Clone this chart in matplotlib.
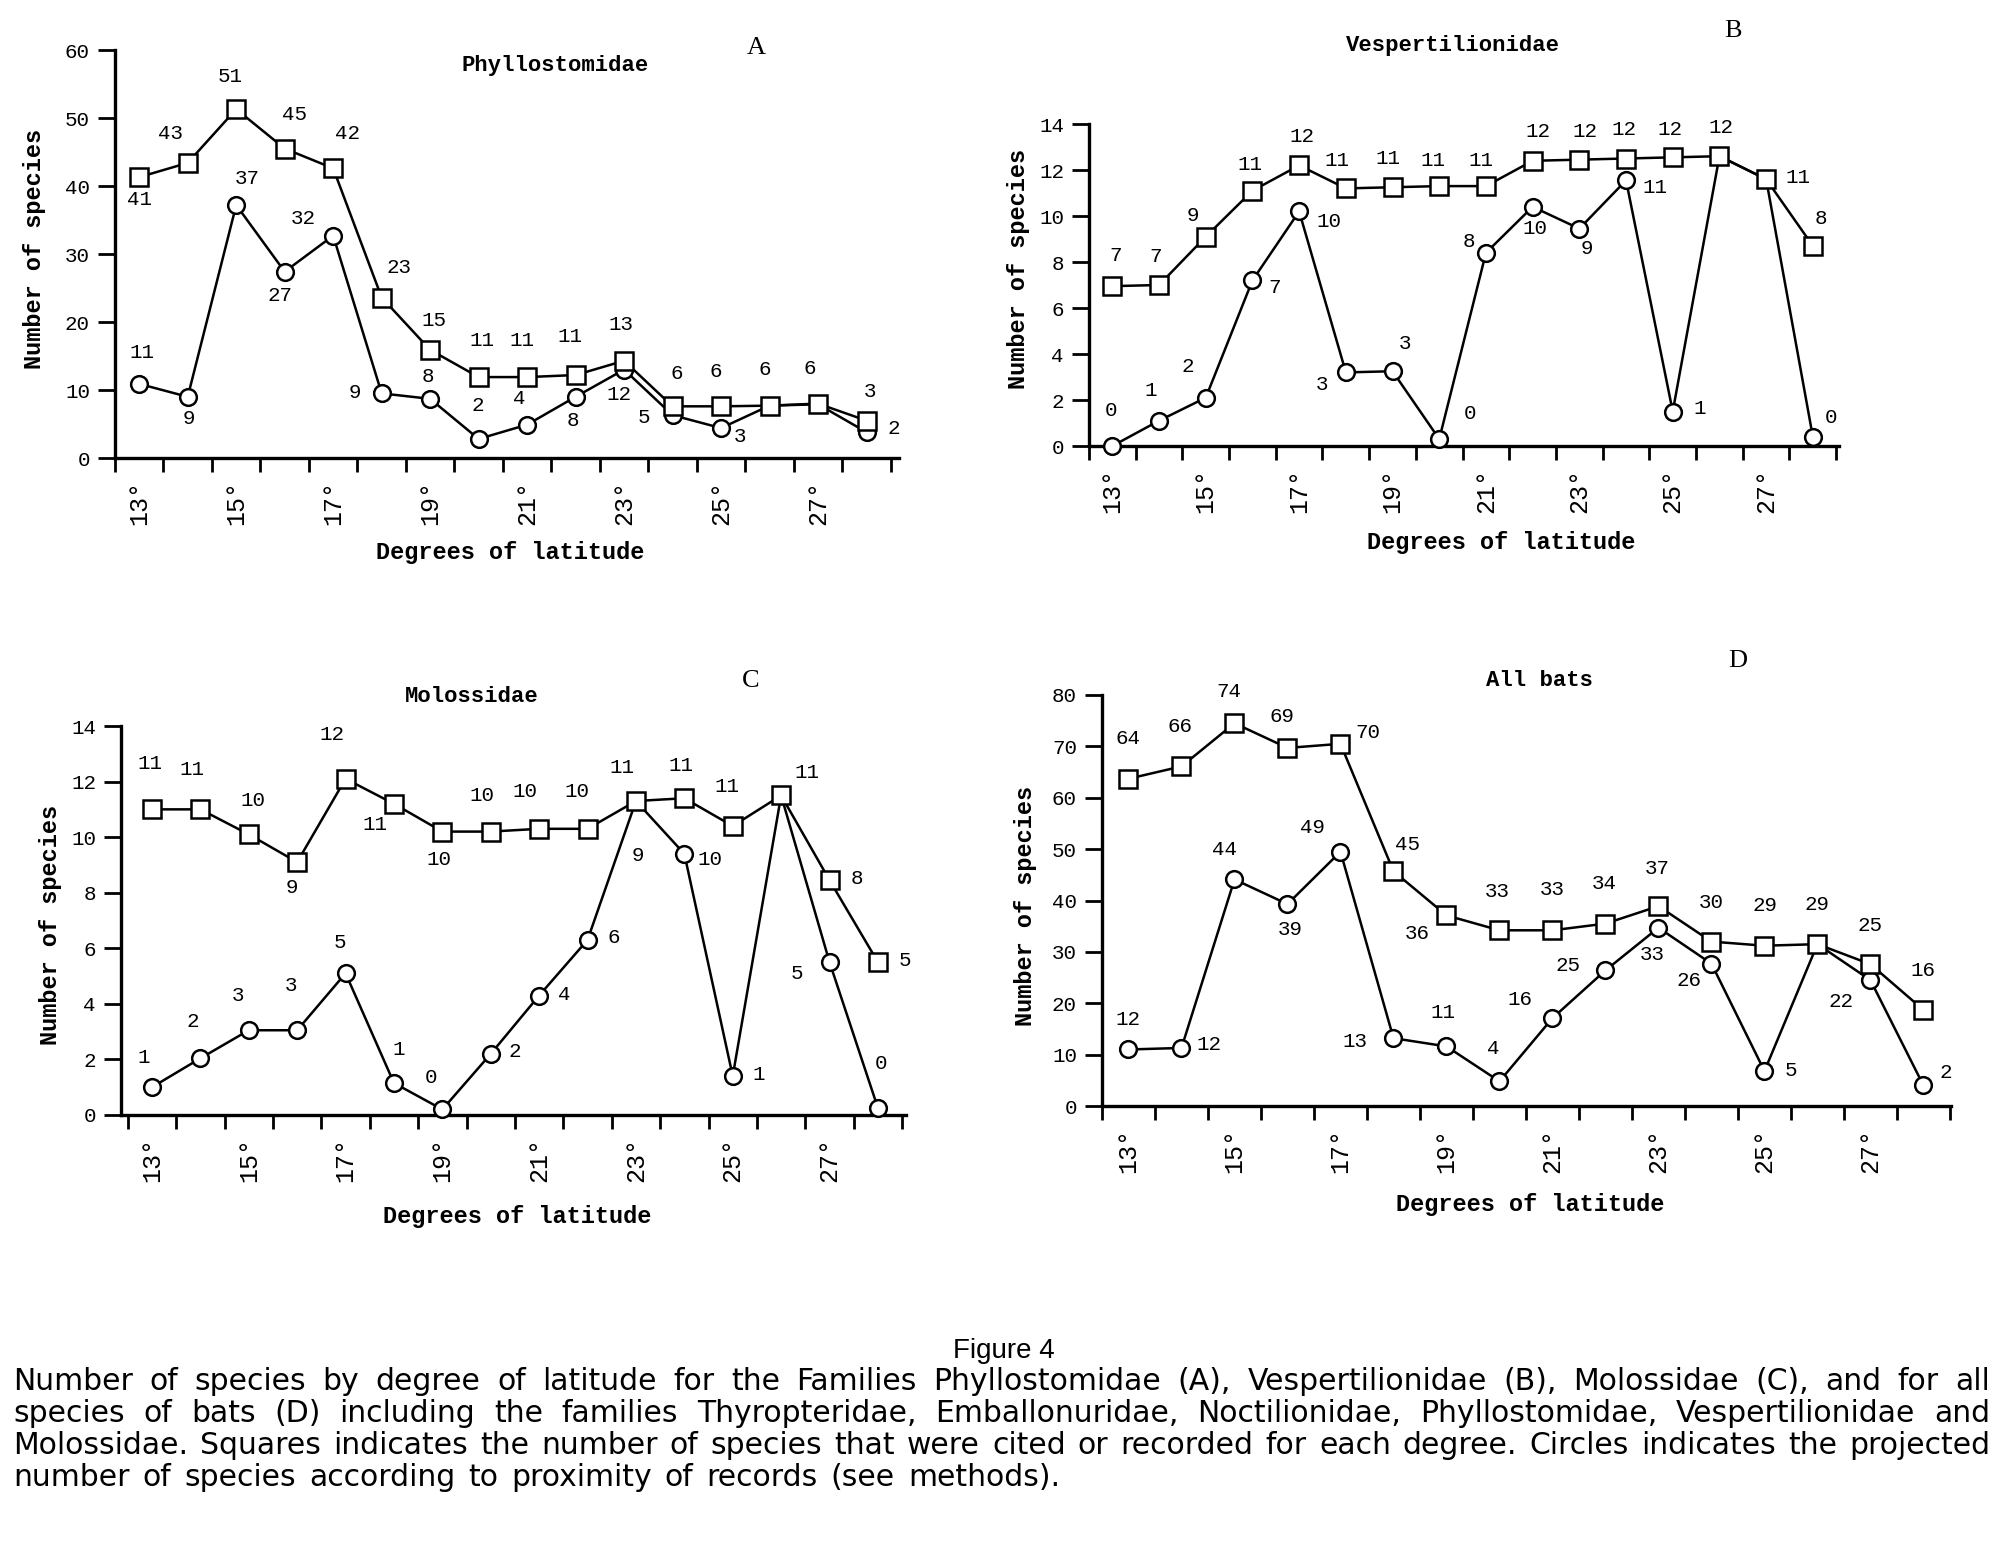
import numpy as np
import matplotlib
matplotlib.use('Agg')
import matplotlib.pyplot as plt

W, H = 2008, 1560
MONO = 'Liberation Mono'
SERIF = 'Liberation Serif'
SANS = 'Liberation Sans'

lat = np.arange(13, 29)
odd_lat = np.arange(13, 29, 2)
lat_labels = [f'{d}°' for d in odd_lat]

# A  Phyllostomidae (values as plotted, labels as printed)
sq_a = [41.3, 43.4, 51.3, 45.5, 42.6, 23.6, 15.9, 11.9, 11.9, 12.2, 14.3, 7.6, 7.6, 7.7, 8.0, 5.5]
sq_a_lab = ['41', '43', '51', '45', '42', '23', '15', '11', '11', '11', '13', '6', '6', '6', '6', '3']
ci_a = [10.9, 9.0, 37.2, 27.4, 32.7, 9.5, 8.7, 2.8, 4.9, 9.0, 13.0, 6.3, 4.4, 7.7, 7.9, 3.8]
ci_a_lab = ['11', '9', '37', '27', '32', '9', '8', '2', '4', '8', '12', '5', '3', '', '', '2']

# B  Vespertilionidae
sq_b = [6.95, 7.0, 9.1, 11.1, 12.2, 11.2, 11.25, 11.3, 11.3, 12.4, 12.45, 12.5, 12.55, 12.6, 11.6, 8.7]
sq_b_lab = ['7', '7', '9', '11', '12', '11', '11', '11', '11', '12', '12', '12', '12', '12', '11', '8']
ci_b = [0, 1.1, 2.1, 7.2, 10.2, 3.2, 3.25, 0.3, 8.4, 10.4, 9.45, 11.55, 1.5, 12.6, 11.6, 0.4]
ci_b_lab = ['0', '1', '2', '7', '10', '3', '3', '0', '8', '10', '9', '11', '1', '', '', '0']

# C  Molossidae
sq_c = [11.0, 11.0, 10.1, 9.1, 12.1, 11.2, 10.2, 10.2, 10.3, 10.3, 11.3, 11.4, 10.4, 11.5, 8.45, 5.5]
sq_c_lab = ['11', '11', '10', '9', '12', '11', '10', '10', '10', '10', '11', '11', '11', '11', '8', '5']
ci_c = [1.0, 2.04, 3.05, 3.05, 5.1, 1.15, 0.2, 2.2, 4.3, 6.3, 11.3, 9.4, 1.4, 11.5, 5.5, 0.25]
ci_c_lab = ['1', '2', '3', '3', '5', '1', '0', '2', '4', '6', '9', '10', '1', '', '5', '0']

# D  All bats
sq_d = [63.7, 66.1, 74.5, 69.7, 70.5, 45.7, 37.1, 34.2, 34.2, 35.5, 38.9, 32.0, 31.2, 31.5, 27.6, 18.7]
sq_d_lab = ['64', '66', '74', '69', '70', '45', '36', '33', '33', '34', '37', '30', '29', '29', '25', '16']
ci_d = [11.0, 11.3, 44.1, 39.3, 49.5, 13.2, 11.6, 4.8, 17.1, 26.4, 34.7, 27.7, 6.8, 31.5, 24.5, 4.0]
ci_d_lab = ['12', '12', '44', '39', '49', '13', '11', '4', '16', '25', '33', '26', '5', '', '22', '2']

# label offsets in pixels (dx right, dy down)
sq_a_off = [(0, 22), (-17, -29), (-6, -33), (10, -34), (14, -35), (17, -30), (4, -29), (3, -37),
            (-5, -37), (-6, -39), (-3, -36), (4, -33), (-5, -35), (-5, -36), (-8, -35), (3, -29)]
ci_a_off = [(3, -31), (1, 22), (11, -27), (-5, 24), (-30, -17), (-27, -1), (-2, -22), (-1, -33),
            (-8, -26), (-3, 24), (-5, 25), (-29, 2), (19, 8), (0, 0), (0, 0), (27, -4)]
sq_b_off = [(3, -31), (-3, -29), (-13, -21), (-2, -26), (3, -29), (-9, -28), (-5, -29), (-6, -26),
            (-5, -26), (5, -29), (6, -28), (-2, -29), (-3, -28), (2, -29), (32, -2), (8, -27)]
ci_b_off = [(-1, -36), (-8, -30), (-18, -31), (22, 7), (30, 10), (-24, 12), (12, -28), (31, -26),
            (-17, -11), (2, 22), (8, 20), (29, 7), (27, -3), (0, 0), (0, 0), (18, -19)]
sq_c_off = [(-2, -46), (-8, -40), (4, -34), (-5, 25), (-14, -44), (-19, 21), (-3, 28), (-9, -36),
            (-14, -37), (-11, -37), (-14, -34), (-3, -33), (-6, -40), (26, -23), (27, -2), (27, -2)]
ci_c_off = [(-8, -30), (-8, -37), (-11, -35), (-6, -45), (-6, -31), (5, -34), (-11, -32), (24, -2),
            (25, -1), (26, -2), (2, 54), (26, 6), (26, -2), (0, 0), (-33, 11), (3, -45)]
sq_d_off = [(0, -40), (-1, -40), (-6, -32), (-5, -31), (27, -11), (14, -27), (-29, 18), (-2, -39),
            (0, -41), (-1, -40), (-1, -38), (0, -39), (1, -40), (0, -40), (0, -39), (0, -39)]
ci_d_off = [(-1, -30), (27, -3), (-10, -30), (3, 25), (-28, -24), (-39, 3), (-4, -34), (-6, -33),
            (-32, -19), (-37, -5), (-6, 27), (-22, 17), (26, -1), (0, 0), (-29, 21), (22, -13)]

caption = [
    'Number of species by degree of latitude for the Families Phyllostomidae (A), Vespertilionidae (B), Molossidae (C), and for all',
    'species of bats (D) including the families Thyropteridae, Emballonuridae, Noctilionidae, Phyllostomidae, Vespertilionidae and',
    'Molossidae. Squares indicates the number of species that were cited or recorded for each degree. Circles indicates the projected',
    'number of species according to proximity of records (see methods).',
]


def fx(x):
    return x / W


def fy(y):
    return 1 - y / H


fig = plt.figure(figsize=(W / 100, H / 100), dpi=100)
fig.patch.set_facecolor('white')


def panel(box, xlim, ymax, ystep, sq, sq_lab, sq_off, ci, ci_lab, ci_off,
          title, title_xy, letter, letter_xy, xlab_xy, ylab_xy):
    l, t, r, b = box
    ax = fig.add_axes([fx(l), fy(b), (r - l) / W, (b - t) / H])
    ax.plot(lat, ci, '-o', color='black', lw=1.8, ms=12, mfc='white', mec='black',
            mew=1.8, clip_on=False, zorder=3)
    ax.plot(lat, sq, '-s', color='black', lw=1.8, ms=13, mfc='white', mec='black',
            mew=1.8, clip_on=False, zorder=4)
    for x, y, s, (dx, dy) in zip(lat, sq, sq_lab, sq_off):
        if s:
            ax.annotate(s, (x, y), xytext=(dx, -dy), textcoords='offset pixels',
                        ha='center', va='center', fontsize=15, family=MONO, zorder=5)
    for x, y, s, (dx, dy) in zip(lat, ci, ci_lab, ci_off):
        if s:
            ax.annotate(s, (x, y), xytext=(dx, -dy), textcoords='offset pixels',
                        ha='center', va='center', fontsize=15, family=MONO, zorder=5)
    ax.set_xlim(*xlim)
    ax.set_ylim(0, ymax)
    ax.set_yticks(np.arange(0, ymax + 1, ystep))
    ax.set_xticks(odd_lat)
    ax.set_xticklabels(lat_labels, rotation=90, family=MONO, fontsize=18)
    ax.set_xticks(np.arange(12.5, 28.6, 1.0), minor=True)
    ax.tick_params(axis='x', which='major', length=0, pad=16)
    ax.tick_params(axis='x', which='minor', length=10, width=2, direction='out')
    ax.tick_params(axis='y', length=12, width=2, direction='out', pad=6)
    for lbl in ax.get_yticklabels():
        lbl.set_family(MONO)
        lbl.set_fontsize(15)
    for side in ('top', 'right'):
        ax.spines[side].set_visible(False)
    for side in ('left', 'bottom'):
        ax.spines[side].set_linewidth(2.4)
    fig.text(fx(title_xy[0]), fy(title_xy[1]), title, ha='center', va='center',
             family=MONO, fontsize=16, weight='bold')
    fig.text(fx(letter_xy[0]), fy(letter_xy[1]), letter, ha='center', va='center',
             family=SERIF, fontsize=19)
    fig.text(fx(xlab_xy[0]), fy(xlab_xy[1]), 'Degrees of latitude', ha='center', va='center',
             family=MONO, fontsize=17, weight='bold')
    fig.text(fx(ylab_xy[0]), fy(ylab_xy[1]), 'Number of species', ha='center', va='center',
             rotation=90, family=MONO, fontsize=17, weight='bold')
    return ax


panel((115, 50, 899, 458), (12.5, 28.67), 60, 10, sq_a, sq_a_lab, sq_a_off, ci_a, ci_a_lab, ci_a_off,
      'Phyllostomidae', (555, 65), 'A', (756, 48), (510, 552), (35, 249))
panel((1089, 124, 1839, 446), (12.57, 28.56), 14, 2, sq_b, sq_b_lab, sq_b_off, ci_b, ci_b_lab, ci_b_off,
      'Vespertilionidae', (1453, 45), 'B', (1733, 31), (1501, 543), (1019, 269))
panel((121, 726, 906, 1115), (12.36, 28.58), 14, 2, sq_c, sq_c_lab, sq_c_off, ci_c, ci_c_lab, ci_c_off,
      'Molossidae', (472, 696), 'C', (751, 681), (517, 1217), (51, 925))
panel((1102, 695, 1951, 1106), (12.5, 28.52), 80, 10, sq_d, sq_d_lab, sq_d_off, ci_d, ci_d_lab, ci_d_off,
      'All bats', (1540, 681), 'D', (1738, 661), (1530, 1205), (1026, 906))

# caption, justified line by line
fig.text(fx(1004), fy(1351), 'Figure 4', ha='center', va='center', family=SANS, fontsize=20)
renderer = fig.canvas.get_renderer()
x0, x1 = 13, 1990
line_y = [1381, 1413, 1445, 1477]
for i, (line, y) in enumerate(zip(caption, line_y)):
    words = line.split(' ')
    texts = [fig.text(0, fy(y), w, ha='left', va='center', family='DejaVu Sans', fontsize=21.5)
             for w in words]
    widths = [t.get_window_extent(renderer).width for t in texts]
    if i < len(caption) - 1:
        gap = (x1 - x0 - sum(widths)) / (len(words) - 1)
    else:
        gap = 13
    x = x0
    for t, wd in zip(texts, widths):
        t.set_x(fx(x))
        x += wd + gap

fig.savefig('out.png', dpi=100, facecolor='white')
